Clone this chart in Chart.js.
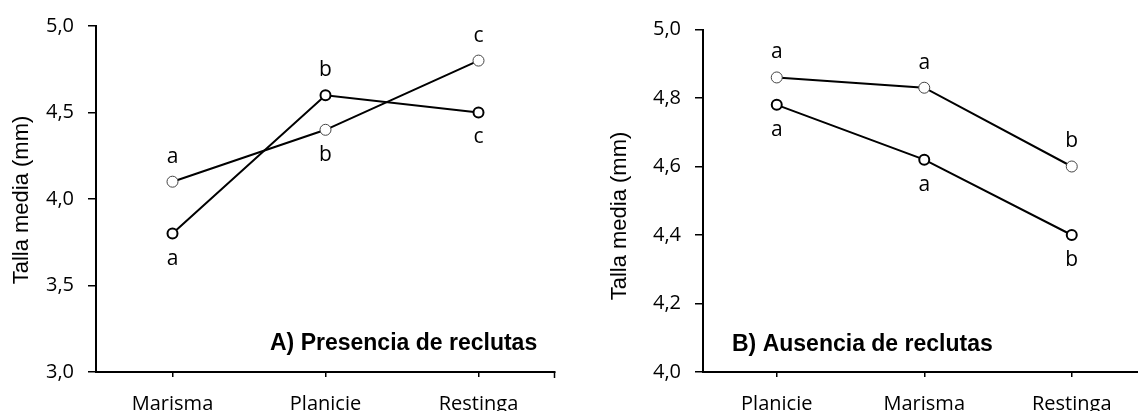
<!DOCTYPE html>
<html>
<head>
<meta charset="utf-8">
<script src="https://cdn.jsdelivr.net/npm/chart.js@4.4.1/dist/chart.umd.min.js"></script>
<style>
    html, body { margin: 0; padding: 0; background: #fff; }
    #wrap { position: relative; width: 1138px; height: 411px; overflow: hidden; }
    .panel { position: absolute; top: 0; height: 411px; overflow: hidden; }
</style>
</head>
<body>
<div id="wrap">
    <div class="panel" style="left:0;width:570px"><canvas id="chartA" width="570" height="411"></canvas></div>
    <div class="panel" style="left:570px;width:568px"><canvas id="chartB" width="600" height="411"></canvas></div>
</div>
<script>
// A) Presencia de reclutas
const sitiosA = ['Marisma', 'Planicie', 'Restinga'];
const serieA1 = [3.8, 4.6, 4.5];
const serieA2 = [4.1, 4.4, 4.8];
const letrasA1 = ['a', 'b', 'c'];
const letrasA2 = ['a', 'b', 'c'];
const ladoA1 = ['below', 'above', 'below'];
const ladoA2 = ['above', 'below', 'above'];
const ticksA = [3.0, 3.5, 4.0, 4.5, 5.0];

// B) Ausencia de reclutas
const sitiosB = ['Planicie', 'Marisma', 'Restinga'];
const serieB1 = [4.78, 4.62, 4.40];
const serieB2 = [4.86, 4.83, 4.60];
const letrasB1 = ['a', 'a', 'b'];
const letrasB2 = ['a', 'a', 'b'];
const ladoB1 = ['below', 'below', 'below'];
const ladoB2 = ['above', 'above', 'above'];
const ticksB = [4.0, 4.2, 4.4, 4.6, 4.8, 5.0];

const tickFont = {family: '"Open Sans", sans-serif', size: 20};

// letters of significance above / below each point
const letrasPlugin = {
    id: 'letras',
    afterDatasetsDraw(chart) {
        const ctx = chart.ctx;
        ctx.save();
        ctx.font = '21px "Open Sans", sans-serif';
        ctx.fillStyle = '#000';
        ctx.textAlign = 'center';
        ctx.textBaseline = 'middle';
        chart.data.datasets.forEach(function (ds, i) {
            if (!ds.letras) return;
            chart.getDatasetMeta(i).data.forEach(function (pt, j) {
                const dy = ds.lados[j] === 'above' ? -25 : 25;
                ctx.fillText(ds.letras[j], pt.x, pt.y + dy);
            });
        });
        ctx.restore();
    }
};

// panel title, rotated y title and the tick at the end of the x axis
const extrasPlugin = {
    id: 'extras',
    afterDraw(chart, args, opts) {
        const ctx = chart.ctx;
        ctx.save();
        ctx.fillStyle = '#000';
        ctx.font = 'bold 23px "Liberation Sans", Arial, sans-serif';
        ctx.textAlign = 'left';
        ctx.textBaseline = 'alphabetic';
        ctx.fillText(opts.panel.text, opts.panel.x, opts.panel.y);

        ctx.font = '22px "Liberation Sans", Arial, sans-serif';
        ctx.textAlign = 'center';
        ctx.textBaseline = 'middle';
        ctx.translate(opts.yTitle.x, opts.yTitle.y);
        ctx.rotate(-Math.PI / 2);
        ctx.fillText(opts.yTitle.text, 0, 0);
        ctx.restore();

        if (opts.endTick) {
            const a = chart.chartArea;
            ctx.save();
            ctx.strokeStyle = '#000';
            ctx.lineWidth = 1.5;
            ctx.beginPath();
            ctx.moveTo(a.right - 0.5, a.bottom);
            ctx.lineTo(a.right - 0.5, a.bottom + 6);
            ctx.stroke();
            ctx.restore();
        }
    }
};

function makeDatasets(s1, s2, l1, l2, p1, p2) {
    return [{
        data: s1,
        letras: l1,
        lados: p1,
        borderColor: '#000',
        borderWidth: 2,
        pointRadius: 5,
        pointBorderWidth: 2,
        pointBorderColor: '#000',
        pointBackgroundColor: '#fff',
        tension: 0
    }, {
        data: s2,
        letras: l2,
        lados: p2,
        borderColor: '#000',
        borderWidth: 2,
        pointRadius: 5.5,
        pointBorderWidth: 1,
        pointBorderColor: '#444',
        pointBackgroundColor: '#fff',
        tension: 0
    }];
}

function makeScales(tickVals, yWidth) {
    return {
        x: {
            offset: true,
            grid: {drawOnChartArea: false, drawTicks: true, tickLength: 5, color: '#000', lineWidth: 1.5},
            border: {display: true, color: '#000', width: 2},
            ticks: {font: tickFont, color: '#000', padding: 15, maxRotation: 0, autoSkip: false},
            afterFit: function (s) { s.height = 39; }
        },
        y: {
            min: tickVals[0],
            max: tickVals[tickVals.length - 1],
            afterBuildTicks: function (s) {
                s.ticks = tickVals.map(function (v) { return {value: v}; });
            },
            grid: {drawOnChartArea: false, drawTicks: true, tickLength: 8, color: '#000', lineWidth: 1.5},
            border: {display: true, color: '#000', width: 2},
            ticks: {
                font: tickFont, color: '#000', padding: 14,
                callback: function (v) { return v.toFixed(1).replace('.', ','); }
            },
            afterFit: function (s) { s.width = yWidth; }
        }
    };
}

new Chart(document.getElementById('chartA'), {
    type: 'line',
    data: {labels: sitiosA, datasets: makeDatasets(serieA1, serieA2, letrasA1, letrasA2, ladoA1, ladoA2)},
    options: {
        responsive: false,
        animation: false,
        devicePixelRatio: 1,
        layout: {padding: {top: 23, right: 15, left: 0, bottom: 0}},
        scales: makeScales(ticksA, 96),
        plugins: {
            legend: {display: false},
            tooltip: {enabled: false},
            extras: {
                panel: {text: 'A) Presencia de reclutas', x: 270, y: 350},
                yTitle: {text: 'Talla media (mm)', x: 22, y: 200},
                endTick: true
            }
        }
    },
    plugins: [letrasPlugin, extrasPlugin]
});

new Chart(document.getElementById('chartB'), {
    type: 'line',
    data: {labels: sitiosB, datasets: makeDatasets(serieB1, serieB2, letrasB1, letrasB2, ladoB1, ladoB2)},
    options: {
        responsive: false,
        animation: false,
        devicePixelRatio: 1,
        layout: {padding: {top: 29.5, right: 24.5, left: 0, bottom: 0}},
        scales: makeScales(ticksB, 133),
        plugins: {
            legend: {display: false},
            tooltip: {enabled: false},
            extras: {
                panel: {text: 'B) Ausencia de reclutas', x: 162, y: 351},
                yTitle: {text: 'Talla media (mm)', x: 50, y: 216},
                endTick: false
            }
        }
    },
    plugins: [letrasPlugin, extrasPlugin]
});
</script>
</body>
</html>
